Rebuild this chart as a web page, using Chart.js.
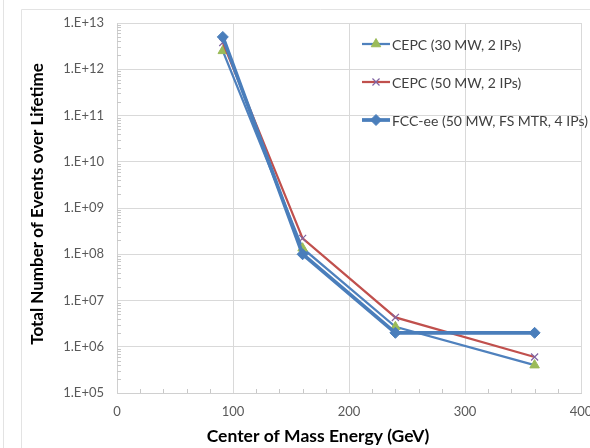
<!DOCTYPE html>
<html>
<head>
<meta charset="utf-8">
<script src="https://cdn.jsdelivr.net/npm/chart.js@4"></script>
<style>
  html, body { margin: 0; padding: 0; background: #fff; overflow: hidden; }
  #wrap { position: absolute; left: 0; top: 0; width: 620px; height: 448px; }
</style>
</head>
<body>
<div id="wrap"><canvas id="c" width="620" height="448"></canvas></div>
<script>
// Centre-of-mass energies (GeV)
const energies = [91.2, 160, 240, 360];

// Total events over the machine lifetime
const cepc30 = [2.5e12, 1.35e8, 2.7e6, 4.0e5];
const cepc50 = [3.8e12, 2.2e8, 4.3e6, 6.0e5];
const fccee  = [5.0e12, 1.0e8, 2.0e6, 2.0e6];

const seriesNames = ['CEPC (30 MW, 2 IPs)', 'CEPC (50 MW, 2 IPs)', 'FCC-ee (50 MW, FS MTR, 4 IPs)'];

const xTicks = [0, 100, 200, 300, 400];
const yTicks = [1e5, 1e6, 1e7, 1e8, 1e9, 1e10, 1e11, 1e12, 1e13];

const xTitle = 'Center of Mass Energy (GeV)';
const yTitle = 'Total Number of Events over Lifetime';

const FONT = "Lato, 'Open Sans', sans-serif";

function toPoints(values) {
  return energies.map((e, i) => ({ x: e, y: values[i] }));
}

function sciLabel(v) {
  const p = Math.round(Math.log10(v));
  return '1.E+' + String(p).padStart(2, '0');
}

// Light frame lines around the figure
const framePlugin = {
  id: 'frame',
  beforeDraw(chart) {
    const ctx = chart.ctx;
    ctx.save();
    ctx.strokeStyle = '#e3e3e3';
    ctx.lineWidth = 1;
    ctx.beginPath();
    ctx.moveTo(3.5, 0); ctx.lineTo(3.5, 448);
    ctx.moveTo(21.5, 448); ctx.lineTo(21.5, 9.5); ctx.lineTo(620, 9.5);
    ctx.stroke();
    ctx.restore();
  }
};

// Minor tick marks on both axes
const minorTicksPlugin = {
  id: 'minorTicks',
  afterDraw(chart) {
    const { ctx, chartArea: a, scales: { x, y } } = chart;
    ctx.save();
    ctx.strokeStyle = '#c8c8c8';
    ctx.lineWidth = 1;
    ctx.beginPath();
    for (let d = 5; d < 13; d++) {
      for (let m = 2; m <= 9; m++) {
        const py = Math.round(y.getPixelForValue(m * Math.pow(10, d))) + 0.5;
        ctx.moveTo(a.left, py); ctx.lineTo(a.left + 4, py);
      }
    }
    for (let v = 20; v < 400; v += 20) {
      if (v % 100 === 0) continue;
      const px = Math.round(x.getPixelForValue(v)) + 0.5;
      ctx.moveTo(px, a.bottom); ctx.lineTo(px, a.bottom - 4);
    }
    ctx.stroke();
    ctx.restore();
  }
};

// Axis titles
const axisTitlePlugin = {
  id: 'axisTitles',
  afterDraw(chart) {
    const ctx = chart.ctx;
    ctx.save();
    ctx.fillStyle = '#000';
    ctx.textAlign = 'center';
    ctx.textBaseline = 'middle';
    ctx.font = 'bold 17.5px ' + FONT;
    ctx.fillText(xTitle, 318, 436);
    ctx.font = 'bold 17px ' + FONT;
    ctx.translate(38, 204);
    ctx.rotate(-Math.PI / 2);
    ctx.fillText(yTitle, 0, 0);
    ctx.restore();
  }
};

// Legend drawn inside the plot area, styled from each dataset
const insideLegendPlugin = {
  id: 'insideLegend',
  afterDraw(chart) {
    const ctx = chart.ctx;
    const rows = [44, 82, 120];
    ctx.save();
    chart.data.datasets.forEach((ds, i) => {
      const yy = rows[i];
      ctx.strokeStyle = ds.borderColor;
      ctx.lineWidth = ds.borderWidth;
      ctx.beginPath();
      ctx.moveTo(362, yy); ctx.lineTo(390, yy);
      ctx.stroke();
      ctx.fillStyle = ds.pointBackgroundColor;
      ctx.strokeStyle = ds.pointBorderColor;
      ctx.lineWidth = ds.pointBorderWidth;
      Chart.helpers.drawPoint(ctx, {
        pointStyle: ds.pointStyle,
        radius: ds.pointRadius,
        rotation: 0,
        borderWidth: ds.pointBorderWidth
      }, 376, yy);
      ctx.fillStyle = '#404040';
      ctx.font = '14px ' + FONT;
      ctx.textAlign = 'left';
      ctx.textBaseline = 'middle';
      ctx.fillText(ds.label, 392, yy + 1);
    });
    ctx.restore();
  }
};

const chart = new Chart(document.getElementById('c'), {
  type: 'line',
  data: {
    datasets: [
      {
        label: seriesNames[0],
        data: toPoints(cepc30),
        borderColor: '#4f81bd',
        borderWidth: 2.25,
        pointStyle: 'triangle',
        pointRadius: 5.5,
        pointBackgroundColor: '#9bbb59',
        pointBorderColor: '#9bbb59',
        pointBorderWidth: 1,
        order: 2
      },
      {
        label: seriesNames[1],
        data: toPoints(cepc50),
        borderColor: '#c0504d',
        borderWidth: 2.25,
        pointStyle: 'crossRot',
        pointRadius: 5,
        pointBackgroundColor: '#8064a2',
        pointBorderColor: '#8064a2',
        pointBorderWidth: 1.2,
        order: 1
      },
      {
        label: seriesNames[2],
        data: toPoints(fccee),
        borderColor: '#4a7ebb',
        borderWidth: 3.75,
        pointStyle: 'rectRot',
        pointRadius: 5.5,
        pointBackgroundColor: '#4a7ebb',
        pointBorderColor: '#4a7ebb',
        pointBorderWidth: 1,
        order: 0
      }
    ]
  },
  options: {
    responsive: false,
    animation: false,
    events: [],
    layout: { padding: { left: 0, top: 23, right: 39, bottom: 0 } },
    plugins: { legend: { display: false }, tooltip: { enabled: false } },
    elements: { line: { tension: 0 } },
    scales: {
      x: {
        type: 'linear',
        min: 0,
        max: 400,
        afterBuildTicks: s => { s.ticks = xTicks.map(v => ({ value: v })); },
        afterFit: s => { s.height = 55; },
        grid: { color: '#d9d9d9', lineWidth: 1, drawTicks: false },
        border: { color: '#d0d0d0', width: 1 },
        ticks: { color: '#595959', font: { family: FONT, size: 13 }, padding: 11, maxRotation: 0 }
      },
      y: {
        type: 'logarithmic',
        min: 1e5,
        max: 1e13,
        afterBuildTicks: s => { s.ticks = yTicks.map(v => ({ value: v })); },
        afterFit: s => { s.width = 117; },
        grid: { color: '#d9d9d9', lineWidth: 1, drawTicks: false },
        border: { color: '#d0d0d0', width: 1 },
        ticks: { color: '#595959', font: { family: FONT, size: 13 }, padding: 13, callback: v => sciLabel(v) }
      }
    }
  },
  plugins: [framePlugin, minorTicksPlugin, axisTitlePlugin, insideLegendPlugin]
});
</script>
</body>
</html>
